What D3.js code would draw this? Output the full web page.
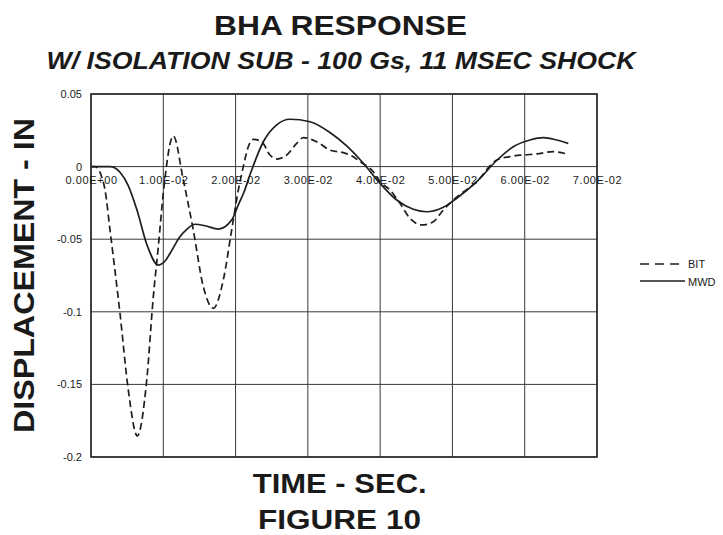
<!DOCTYPE html>
<html>
<head>
<meta charset="utf-8">
<script src="https://cdn.jsdelivr.net/npm/d3@7"></script>
<style>
  body { margin: 0; background: #fff; }
  text { font-family: 'Liberation Sans', Arial, Helvetica, sans-serif; fill: #1a1a1a; }
</style>
</head>
<body>
<div class="chart"></div>
<script>
// values (time in seconds, displacement in inches)
const bitTime = [0, 0.00055, 0.00148, 0.00194, 0.00263, 0.00401, 0.00516, 0.00641, 0.00771, 0.00862,
  0.00931, 0.0100, 0.01139, 0.01277, 0.01415, 0.01554, 0.01692, 0.0183, 0.01946, 0.02038,
  0.02107, 0.02176, 0.02245, 0.02361, 0.02476, 0.02569, 0.02707, 0.02846, 0.02937, 0.03122,
  0.03306, 0.0349, 0.03629, 0.03721, 0.03905, 0.03998, 0.04136, 0.04274, 0.04413, 0.04575,
  0.04735, 0.04874, 0.05012, 0.05336, 0.05612, 0.05796, 0.0598, 0.06166, 0.06395, 0.06581]
const bitDisp = [0, 0, -0.007, -0.0161, -0.0437, -0.101, -0.1539, -0.1855, -0.147, -0.0896,
  -0.0552, -0.0184, 0.0211, -0.0092, -0.0437, -0.0827, -0.0976, -0.0781, -0.0437, -0.0161,
  0.0, 0.0137, 0.0188, 0.0171, 0.008, 0.0052, 0.008, 0.016, 0.0199, 0.0171,
  0.0114, 0.0096, 0.0068, 0.0034, -0.0035, -0.0104, -0.0161, -0.0253, -0.0356, -0.0402,
  -0.038, -0.0299, -0.023, -0.0104, 0.0045, 0.0069, 0.008, 0.0087, 0.0103, 0.0087]

const mwdTime = [0, 0.00263, 0.00401, 0.00512, 0.00636, 0.00775, 0.00931, 0.01024, 0.01121, 0.01217,
  0.01328, 0.01439, 0.01591, 0.01761, 0.01946, 0.02038, 0.02117, 0.02213, 0.02384, 0.02569,
  0.02753, 0.03029, 0.03306, 0.03537, 0.03767, 0.03998, 0.04229, 0.04459, 0.04644, 0.04874,
  0.05059, 0.05336, 0.05612, 0.05842, 0.06073, 0.06257, 0.06442, 0.06603]
const mwdDisp = [0, 0, -0.0039, -0.0127, -0.0299, -0.054, -0.0678, -0.065, -0.0574, -0.0492,
  -0.043, -0.0397, -0.0409, -0.043, -0.0368, -0.0264, -0.0175, -0.0037, 0.0171, 0.0287,
  0.0326, 0.0309, 0.0235, 0.0142, 0.0023, -0.0115, -0.023, -0.0294, -0.0311, -0.028,
  -0.0218, -0.0104, 0.0042, 0.0137, 0.0183, 0.0199, 0.0183, 0.016]

const xTicks = [0, 0.01, 0.02, 0.03, 0.04, 0.05, 0.06, 0.07]
const xTickLabels = ['0.00E+00', '1.00E-02', '2.00E-02', '3.00E-02', '4.00E-02', '5.00E-02', '6.00E-02', '7.00E-02']
const yTicks = [0.05, 0, -0.05, -0.1, -0.15, -0.2]
const yTickLabels = ['0.05', '0', '-0.05', '-0.1', '-0.15', '-0.2']
const seriesNames = ['BIT', 'MWD']

const W = 723
const H = 535
const plot = {left: 91, right: 597, top: 94, bottom: 457}

const svg = d3.select('.chart')
  .append('svg')
  .attr('width', W)
  .attr('height', H)

const x = d3.scaleLinear().domain([0, 0.07]).range([plot.left, plot.right])
const y = d3.scaleLinear().domain([-0.2, 0.05]).range([plot.bottom, plot.top])

// grid
svg.append('g')
  .selectAll('line')
  .data(xTicks)
  .enter()
  .append('line')
  .attr('x1', d => x(d)).attr('x2', d => x(d))
  .attr('y1', plot.top).attr('y2', plot.bottom)
  .style('stroke', '#3a3a3a')
  .style('stroke-width', 1)

svg.append('g')
  .selectAll('line')
  .data(yTicks)
  .enter()
  .append('line')
  .attr('x1', plot.left).attr('x2', plot.right)
  .attr('y1', d => y(d)).attr('y2', d => y(d))
  .style('stroke', '#3a3a3a')
  .style('stroke-width', 1)

svg.append('rect')
  .attr('x', plot.left).attr('y', plot.top)
  .attr('width', plot.right - plot.left).attr('height', plot.bottom - plot.top)
  .style('fill', 'none')
  .style('stroke', '#2a2a2a')
  .style('stroke-width', 1.6)

// x tick labels sit just under the zero line
const xAxis = d3.axisBottom(x)
  .tickValues(xTicks)
  .tickSize(0)
  .tickPadding(0)
  .tickFormat((d, i) => xTickLabels[i])
svg.append('g')
  .attr('transform', 'translate(0,' + (y(0) + 14) + ')')
  .call(xAxis)
  .call(g => g.select('.domain').remove())
  .selectAll('text')
  .attr('dy', '0.32em')
  .attr('y', 0)
  .style('font-size', '11px')
  .style('letter-spacing', '0.6px')
  .style('fill', '#1a1a1a')

const yAxis = d3.axisLeft(y)
  .tickValues(yTicks)
  .tickSize(0)
  .tickPadding(9)
  .tickFormat((d, i) => yTickLabels[i])
svg.append('g')
  .attr('transform', 'translate(' + plot.left + ',0)')
  .call(yAxis)
  .call(g => g.select('.domain').remove())
  .selectAll('text')
  .style('font-size', '11px')
  .style('fill', '#1a1a1a')

// curves
const line = d3.line()
  .curve(d3.curveMonotoneX)
  .x(d => x(d[0]))
  .y(d => y(d[1]))

const bit = bitTime.map((t, i) => [t, bitDisp[i]])
const mwd = mwdTime.map((t, i) => [t, mwdDisp[i]])

svg.append('path')
  .datum(mwd)
  .attr('d', line)
  .style('fill', 'none')
  .style('stroke', '#1e1e1e')
  .style('stroke-width', 1.7)

svg.append('path')
  .datum(bit)
  .attr('d', line)
  .style('fill', 'none')
  .style('stroke', '#1e1e1e')
  .style('stroke-width', 1.7)
  .style('stroke-dasharray', '7,4')

// legend
const legend = svg.append('g')
legend.selectAll('line')
  .data(seriesNames)
  .enter()
  .append('line')
  .attr('x1', 640).attr('x2', 685)
  .attr('y1', (d, i) => 264 + i * 17)
  .attr('y2', (d, i) => 264 + i * 17)
  .style('stroke', '#1e1e1e')
  .style('stroke-width', 1.3)
  .style('stroke-dasharray', (d, i) => i === 0 ? '9,6' : null)
legend.selectAll('text')
  .data(seriesNames)
  .enter()
  .append('text')
  .attr('x', 688)
  .attr('y', (d, i) => 268 + i * 18)
  .style('font-size', '11px')
  .text(d => d)

// titles
const title = (txt, cx, cy, size, len, italic) =>
  svg.append('text')
    .attr('x', cx).attr('y', cy)
    .attr('text-anchor', 'middle')
    .attr('textLength', len)
    .attr('lengthAdjust', 'spacingAndGlyphs')
    .style('font-size', size + 'px')
    .style('font-weight', 'bold')
    .style('font-style', italic ? 'italic' : 'normal')
    .text(txt)

title('BHA RESPONSE', 340.5, 35, 28, 253)
title('W/ ISOLATION SUB - 100 Gs, 11 MSEC SHOCK', 341, 69, 23, 589, true)
title('TIME - SEC.', 339.7, 493, 28, 174)
title('FIGURE 10', 339.5, 529, 27, 163)

svg.append('text')
  .attr('transform', 'translate(34,275.5) rotate(-90)')
  .attr('text-anchor', 'middle')
  .attr('textLength', 315)
  .attr('lengthAdjust', 'spacingAndGlyphs')
  .style('font-size', '30px')
  .style('font-weight', 'bold')
  .text('DISPLACEMENT - IN')
</script>
</body>
</html>
